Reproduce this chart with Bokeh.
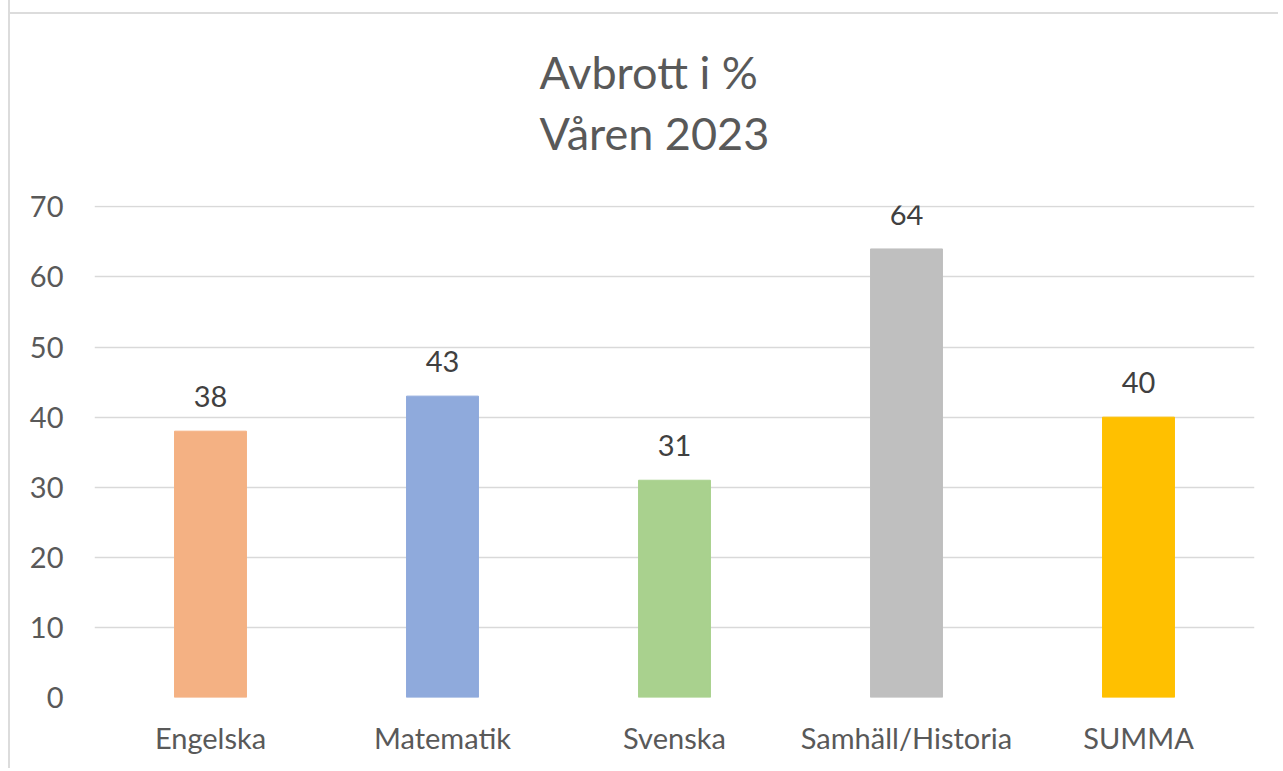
from bokeh.plotting import figure
from bokeh.models import ColumnDataSource, Range1d, FactorRange, LabelSet, Title, SingleIntervalTicker
from bokeh.core.properties import value
from bokeh.embed import file_html
from bokeh.resources import INLINE

categories = ["Engelska", "Matematik", "Svenska", "Samhäll/Historia", "SUMMA"]
values = [38, 43, 31, 64, 40]
colors = ["#F4B183", "#8FAADC", "#A9D18E", "#BFBFBF", "#FFC000"]
title_text = "Avbrott i %\nVåren 2023"

FONT = "Lato"

src = ColumnDataSource(dict(cat=categories, val=values, color=colors,
                            lbl=[str(v) for v in values]))

p = figure(width=1270, height=768, output_backend="svg", toolbar_location=None,
           x_range=FactorRange(*categories, range_padding=0),
           y_range=Range1d(0, 70.2))
p.styles = {"margin-left": "8px", "border-left": "2px solid #dcdcdc",
            "background": "linear-gradient(#dcdcdc, #dcdcdc) 0 12px / 100% 2px no-repeat"}
p.min_border_left = 84
p.min_border_right = 26
p.min_border_top = 204
p.min_border_bottom = 71
p.outline_line_color = None
p.background_fill_color = "white"
p.border_fill_color = None

p.vbar(x="cat", top="val", width=0.31, color="color", source=src)

labels = LabelSet(x="cat", y="val", text="lbl", source=src, text_align="center",
                  text_baseline="bottom", y_offset=24, text_font=value(FONT),
                  text_font_size=value("29px"), text_color=value("#404040"))
p.add_layout(labels)

p.add_layout(Title(text=title_text, align="left", vertical_align="top", text_font=FONT,
                   text_font_size="45px", text_color="#595959", text_font_style="normal",
                   offset=445, standoff=88, text_line_height=1.13), "above")

p.yaxis.ticker = SingleIntervalTicker(interval=10)
for ax in (p.xaxis[0], p.yaxis[0]):
    ax.axis_line_color = None
    ax.major_tick_line_color = None
    ax.minor_tick_line_color = None
    ax.major_label_text_font = FONT
    ax.major_label_text_font_size = "29px"
    ax.major_label_text_color = "#595959"
p.yaxis.major_label_standoff = 25
p.xaxis.major_label_standoff = 16

p.xgrid.grid_line_color = None
p.ygrid.grid_line_color = "#d9d9d9"
p.ygrid.grid_line_width = 1.5

open("out.html", "w").write(file_html(p, INLINE))
